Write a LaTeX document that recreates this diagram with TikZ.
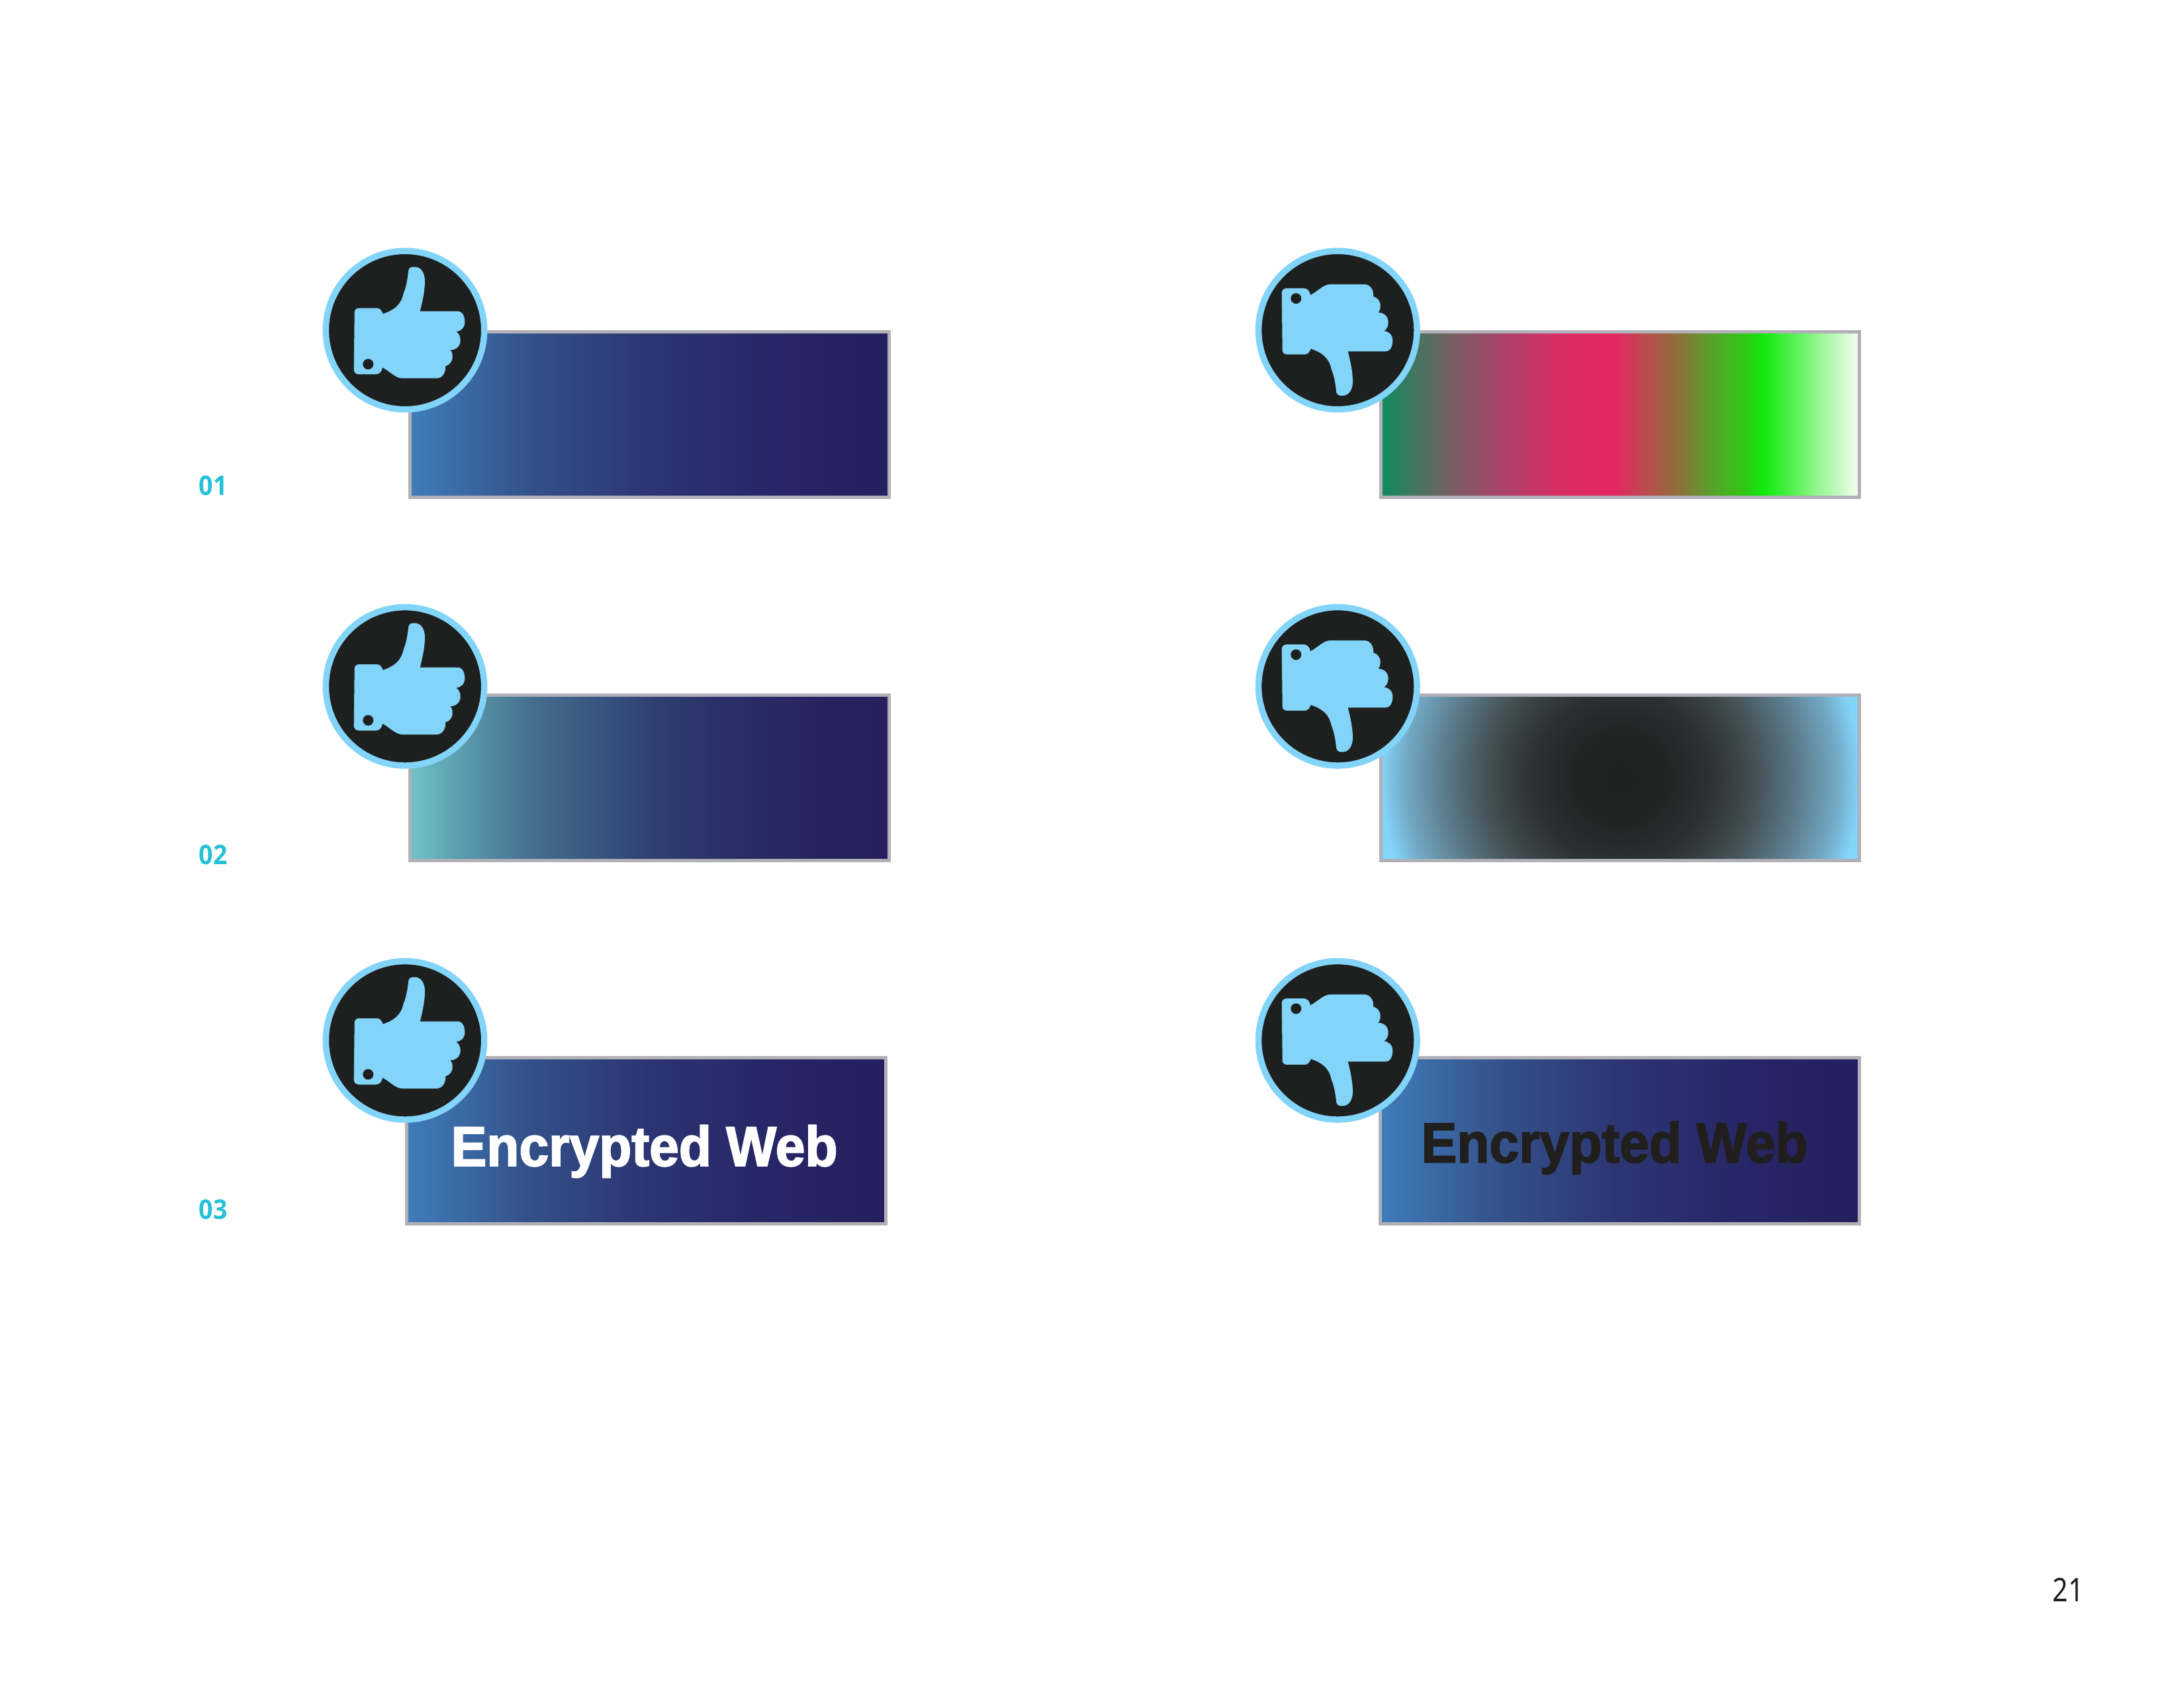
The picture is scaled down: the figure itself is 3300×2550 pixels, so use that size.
\documentclass[tikz,border=0pt]{standalone}
\usepackage{fontspec}
\setmainfont{Noto Sans}[FakeStretch=0.83]
\newfontfamily\bannerfont[BoldFeatures={FakeStretch=0.945,FakeBold=2.2}]{Liberation Sans}
\newfontfamily\indexfont[BoldFeatures={FakeStretch=0.92}]{Open Sans}
\definecolor{cBorder}{RGB}{176,176,182}
\definecolor{cRim}   {RGB}{131,212,249}
\definecolor{cDisc}  {RGB}{30,32,32}
\definecolor{cIndex} {RGB}{38,192,217}
\definecolor{cPage}  {RGB}{30,30,30}
\definecolor{cInk}   {RGB}{33,31,30}
\pgfdeclarehorizontalshading{navyA}{100bp}{
  rgb(0bp)=(0.247,0.490,0.733);
  rgb(25bp)=(0.247,0.490,0.733);
  rgb(37.5bp)=(0.204,0.318,0.541);
  rgb(50bp)=(0.173,0.208,0.447);
  rgb(62.5bp)=(0.153,0.149,0.400);
  rgb(75bp)=(0.145,0.125,0.373);
  rgb(100bp)=(0.145,0.125,0.373)}
\pgfdeclarehorizontalshading{navyB}{100bp}{
  rgb(0bp)=(0.435,0.769,0.784);
  rgb(25bp)=(0.435,0.769,0.784);
  rgb(30.5bp)=(0.353,0.608,0.678);
  rgb(37.5bp)=(0.275,0.435,0.565);
  rgb(44.25bp)=(0.220,0.337,0.502);
  rgb(51bp)=(0.184,0.243,0.439);
  rgb(58bp)=(0.165,0.184,0.412);
  rgb(68.5bp)=(0.149,0.133,0.373);
  rgb(75bp)=(0.153,0.125,0.373);
  rgb(100bp)=(0.153,0.125,0.373)}
\pgfdeclarehorizontalshading{berryGreen}{100bp}{
  rgb(0bp)=(0.063,0.545,0.376);
  rgb(25bp)=(0.063,0.545,0.376);
  rgb(32.3bp)=(0.471,0.373,0.388);
  rgb(37.5bp)=(0.659,0.263,0.416);
  rgb(43.5bp)=(0.851,0.180,0.396);
  rgb(49.3bp)=(0.902,0.153,0.388);
  rgb(56bp)=(0.557,0.435,0.227);
  rgb(59.5bp)=(0.345,0.631,0.165);
  rgb(63bp)=(0.184,0.784,0.078);
  rgb(64.85bp)=(0.059,0.914,0.043);
  rgb(68.4bp)=(0.361,0.949,0.345);
  rgb(72bp)=(0.702,0.976,0.690);
  rgb(75bp)=(0.965,0.992,0.949);
  rgb(100bp)=(0.965,0.992,0.949)}
\pgfdeclareradialshading{darkGlow}{\pgfpoint{0bp}{0bp}}{
  rgb(0bp)=(0.118,0.122,0.122);
  rgb(5bp)=(0.137,0.145,0.145);
  rgb(9bp)=(0.169,0.188,0.196);
  rgb(12bp)=(0.224,0.259,0.271);
  rgb(14.25bp)=(0.271,0.325,0.341);
  rgb(16.5bp)=(0.318,0.408,0.447);
  rgb(18.75bp)=(0.365,0.494,0.557);
  rgb(22.5bp)=(0.447,0.659,0.769);
  rgb(25bp)=(0.514,0.831,0.976);
  rgb(50bp)=(0.514,0.831,0.976)}
\tikzset{
  panel/.style={draw=cBorder,line width=0.05cm},
  banner/.style={anchor=base west,inner sep=0pt,font=\bannerfont\fontsize{24.2}{28}\selectfont\bfseries},
  indexlabel/.style={anchor=base west,inner sep=0pt,text=cIndex,font=\indexfont\fontsize{11.6}{14}\selectfont\bfseries},
}
\newcommand{\thumbShape}{%
  \fill[cRim] (-76.3,-27.3) .. controls (-76.3,-31) and (-73,-33.3) .. (-69.7,-33.3)
    -- (-42.3,-33.3) .. controls (-38,-33.3) and (-35,-29.5) .. (-33.3,-24.7)
    .. controls (-15.7,-30.7) and (-5.7,-39) .. (-2.3,-55.7)
    .. controls (2.7,-67.3) and (4.3,-82.3) .. (5.3,-90.7)
    .. controls (6.3,-95.7) and (11.7,-95.7) .. (14.3,-95.7)
    .. controls (26,-95.7) and (30,-84) .. (30,-74)
    .. controls (30,-59) and (26,-42.3) .. (22.7,-28.7)
    -- (79.3,-28.7) .. controls (87,-28.7) and (90.3,-20.7) .. (90.3,-12.3)
    .. controls (90.3,-4) and (84.3,2) .. (77,2)
    .. controls (81,4.3) and (83.7,9.3) .. (83.7,15)
    .. controls (83.7,24.3) and (77,30) .. (68.3,30)
    .. controls (71,32.7) and (71.7,36) .. (71.7,40)
    .. controls (71.7,47.7) and (67,52.7) .. (61,54.3)
    .. controls (62,64.3) and (56,72.7) .. (47.7,72.7)
    -- (-4,72.7) .. controls (-14,72.7) and (-22.3,62.7) .. (-34,56.3)
    .. controls (-35,62.7) and (-39,66.7) .. (-44,66.7)
    -- (-69.7,66.7) .. controls (-74.7,66.7) and (-77.3,63.3) .. (-77.3,59.3) -- cycle;
  \fill[cDisc] (-55.7,51.3) circle (8);
}
\newcommand{\drawDisc}[2]{%
  \fill[cDisc,draw=cRim,line width=0.095cm] (#1,#2) circle (119.7);
}
\newcommand{\thumbUp}[2]{%
  \drawDisc{#1}{#2}
  \begin{scope}[shift={(#1,#2)}]
    \thumbShape
  \end{scope}
}
\newcommand{\thumbDown}[2]{%
  \drawDisc{#1}{#2}
  \begin{scope}[shift={(#1-7.3,#2+3.3)},yscale=-1]
    \thumbShape
  \end{scope}
}
\begin{document}
\begin{tikzpicture}[x=0.01cm,y=-0.01cm]
\useasboundingbox (0,0) rectangle (3300,2550);

% row 1
\shade[shading=navyA,panel] (619.5,501.5) rectangle (1343.5,751.5);
\shade[shading=berryGreen,panel] (2086.5,501.5) rectangle (2809.5,751.5);

% row 2
\shade[shading=navyB,panel] (619.5,1050.5) rectangle (1343.5,1300.5);
\begin{scope}
  \clip (2086.5,1050.5) rectangle (2809.5,1300.5);
  \fill[cRim] (2086.5,1050.5) rectangle (2809.5,1300.5);
  \shade[shading=darkGlow] (2449,1175.5) circle (362);
\end{scope}
\draw[panel] (2086.5,1050.5) rectangle (2809.5,1300.5);

% row 3
\shade[shading=navyA,panel] (614.5,1598.5) rectangle (1338.5,1849.5);
\shade[shading=navyA,panel] (2085.5,1598.5) rectangle (2809.5,1849.5);

% discs and thumbs
\thumbUp{612}{499}
\thumbUp{612}{1037.3}
\thumbUp{612}{1572.3}
\thumbDown{2021.3}{499}
\thumbDown{2021.3}{1037.3}
\thumbDown{2021.3}{1572.3}

% texts
\node[banner,text=white] (bannerLeft) at (681,1762) {Encrypted Web};
\node[banner,text=cInk] (bannerRight) at (2147,1756.7) {Encrypted Web};
\node[indexlabel] (indexA) at (300,748) {01};
\node[indexlabel] (indexB) at (300,1306.7) {02};
\node[indexlabel] (indexC) at (300,1842.5) {03};
\node[anchor=base west,inner sep=0pt,text=cPage,font=\fontsize{14}{17}\selectfont] (pageNo) at (3101,2420) {21};

\end{tikzpicture}
\end{document}
